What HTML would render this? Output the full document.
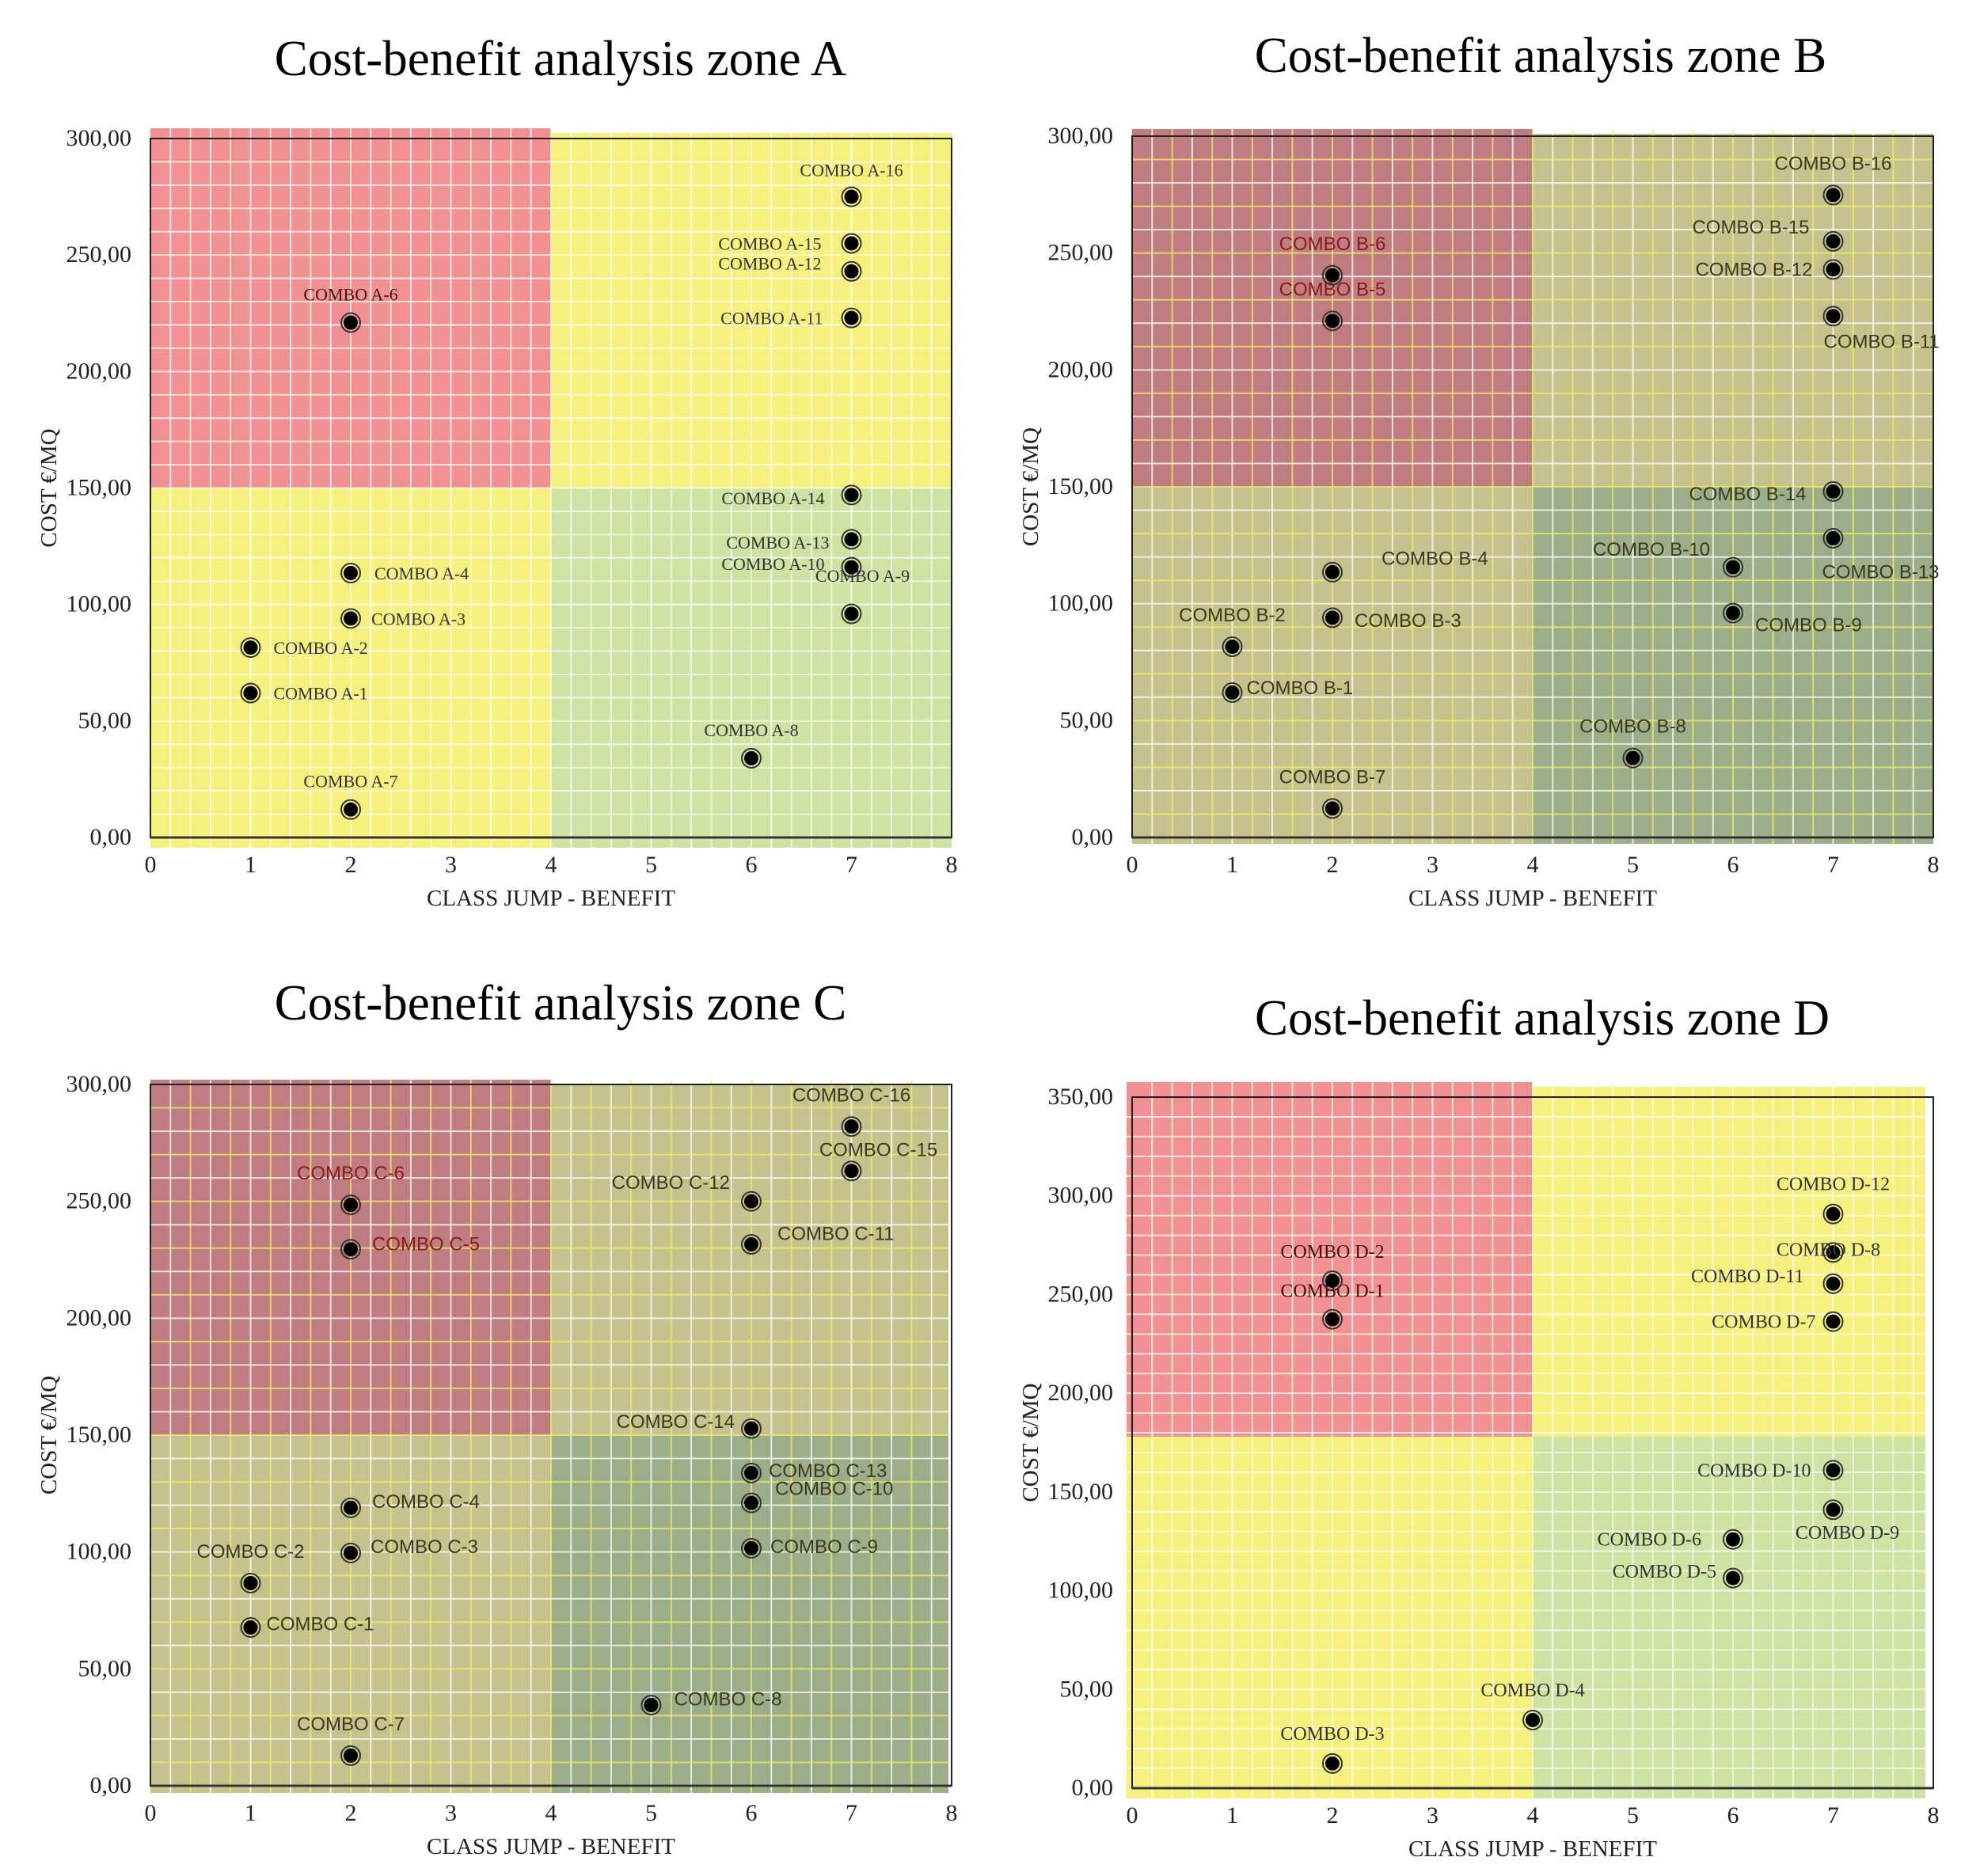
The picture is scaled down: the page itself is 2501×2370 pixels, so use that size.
<!DOCTYPE html>
<html><head><meta charset="utf-8">
<style>
html,body{margin:0;padding:0;background:#fff;}
svg{display:block;}
.title{font-family:"Liberation Serif",serif;font-size:63px;fill:#000;}
.tick{font-family:"Liberation Serif",serif;font-size:30px;fill:#222;}
.axt{font-family:"Liberation Serif",serif;font-size:29px;fill:#222;}
</style></head>
<body>
<svg id="root" width="2501" height="2370" viewBox="0 0 2501 2370" xmlns="http://www.w3.org/2000/svg"></svg>
<script>
// ---- Zone A data ----
const labelsA = ["A-1","A-2","A-3","A-4","A-6","A-7","A-8","A-9","A-10","A-11","A-12","A-13","A-14","A-15","A-16"];
const benefitA = [1,1,2,2,2,2,6,7,7,7,7,7,7,7,7];
const costA = [62,81.5,94,113.5,221,12,34,96,116,223,243,128,147,255,275];
// ---- Zone B data ----
const labelsB = ["B-1","B-2","B-3","B-4","B-5","B-6","B-7","B-8","B-9","B-10","B-11","B-12","B-13","B-14","B-15","B-16"];
const benefitB = [1,1,2,2,2,2,2,5,6,6,7,7,7,7,7,7];
const costB = [62,81.6,94,113.5,221,240.5,12.4,34,96,115.6,223,243,128,148,255,274.8];
// ---- Zone C data ----
const labelsC = ["C-1","C-2","C-3","C-4","C-5","C-6","C-7","C-8","C-9","C-10","C-11","C-12","C-13","C-14","C-15","C-16"];
const benefitC = [1,1,2,2,2,2,2,5,6,6,6,6,6,6,7,7];
const costC = [67.7,86.7,99.6,118.9,229.5,248.5,12.9,34.5,101.6,121,231.6,250,133.8,152.8,263,282];
// ---- Zone D data ----
const labelsD = ["D-1","D-2","D-3","D-4","D-5","D-6","D-7","D-8","D-9","D-10","D-11","D-12"];
const benefitD = [2,2,2,4,6,6,7,7,7,7,7,7];
const costD = [237.5,257,12.5,34.5,106.4,126,236.3,271.3,141,161,255.5,290.8];
// axis ticks
const xTicks = [0,1,2,3,4,5,6,7,8];
const yTicks300 = [0,50,100,150,200,250,300];
const yTicks350 = [0,50,100,150,200,250,300,350];

// label layout (dx, dy, anchor) — layout only
const layA = {"A-1":[29,0,"start"],"A-2":[29,0,"start"],"A-3":[26,0,"start"],"A-4":[30,0,"start"],"A-6":[0,-38,"middle"],"A-7":[0,-38,"middle"],"A-8":[0,-38,"middle"],"A-9":[14,-51,"middle"],"A-10":[-34,-5,"end"],"A-11":[-36,0,"end"],"A-12":[-38,-11,"end"],"A-13":[-28,4,"end"],"A-14":[-34,4,"end"],"A-15":[-38,0,"end"],"A-16":[0,-36,"middle"]};
const layB = {"B-1":[18,-6,"start"],"B-2":[0,-42,"middle"],"B-3":[28,4,"start"],"B-4":[62,-18,"start"],"B-5":[0,-42,"middle"],"B-6":[0,-42,"middle"],"B-7":[0,-42,"middle"],"B-8":[0,-42,"middle"],"B-9":[28,16,"start"],"B-10":[-29,-24,"end"],"B-11":[-12,34,"start"],"B-12":[-26,0,"end"],"B-13":[-14,45,"start"],"B-14":[-34,3,"end"],"B-15":[-30,-19,"end"],"B-16":[0,-42,"middle"]};
const layC = {"C-1":[20,-5,"start"],"C-2":[0,-42,"middle"],"C-3":[25,-8,"start"],"C-4":[27,-8,"start"],"C-5":[27,-7,"start"],"C-6":[0,-42,"middle"],"C-7":[0,-42,"middle"],"C-8":[29,-8,"start"],"C-9":[24,-2,"start"],"C-10":[30,-19,"start"],"C-11":[33,-14,"start"],"C-12":[-27,-25,"end"],"C-13":[22,-3,"start"],"C-14":[-21,-9,"end"],"C-15":[34,-28,"middle"],"C-16":[0,-42,"middle"]};
const layD = {"D-1":[0,-38,"middle"],"D-2":[0,-39,"middle"],"D-3":[0,-40,"middle"],"D-4":[0,-40,"middle"],"D-5":[-21,-9,"end"],"D-6":[-40,0,"end"],"D-7":[-22,0,"end"],"D-8":[-6,-4,"middle"],"D-9":[18,30,"middle"],"D-10":[-28,0,"end"],"D-11":[-37,-10,"end"],"D-12":[0,-40,"middle"]};

const NS="http://www.w3.org/2000/svg";
const root=document.getElementById('root');
function mk(tag,attrs,parent){const e=document.createElementNS(NS,tag);for(const k in attrs)e.setAttribute(k,attrs[k]);(parent||root).appendChild(e);return e;}

function chart(cfg,labels,xs,ys,yTicks,lay){
  const g=mk('g',{});
  
  
  const L=cfg.L,R=cfg.R,T=cfg.T,B=cfg.B,ymax=cfg.ymax;
  const sx=v=>L+(v/8)*(R-L);
  const sy=v=>B-(v/ymax)*(B-T);
  const t=mk('text',{x:cfg.tx,y:cfg.ty,'text-anchor':'middle',class:'title'},g);
  t.textContent=cfg.title;
  
  
  const xm=sx(4),ym=sy(cfg.thr);
  const e=cfg.ext;
  const q=[[L+e[0],T-e[1],xm,ym,cfg.red,'high-cost-low-benefit-zone'],[xm,T-e[1]+6,R+e[2],ym,cfg.yel,'high-cost-high-benefit-zone'],[L+e[0],ym,xm,B+e[3],cfg.yel,'low-cost-low-benefit-zone'],[xm,ym,R+e[2],B+e[3],cfg.grn,'low-cost-high-benefit-zone']];
  q.forEach(a=>{const r=mk('rect',{x:a[0],y:a[1],width:a[2]-a[0],height:a[3]-a[1],fill:a[4]},g);
    
    });
  const gg=mk('g',{},g);
  
  
  for(let i=1;i<40;i++){const x=sx(i*0.2);mk('line',{x1:x,x2:x,y1:T-e[1],y2:B+e[3],stroke:(i%2?cfg.g1:cfg.g2),'stroke-width':2,opacity:0.75},gg);}
  for(let v=10;v<ymax;v+=10){const y=sy(v);mk('line',{x1:L+e[0],x2:R+e[2],y1:y,y2:y,stroke:((v/10)%2?cfg.g2:cfg.g1),'stroke-width':2,opacity:0.75},gg);}
  const fr=mk('rect',{x:L,y:T,width:R-L,height:B-T,fill:'none',stroke:'#222','stroke-width':2},g);
  
  
  mk('line',{x1:L,x2:R,y1:B,y2:B,stroke:'#333','stroke-width':3},g);
  xTicks.forEach(v=>{const tx=mk('text',{x:sx(v),y:B+44,'text-anchor':'middle',class:'tick'},g);tx.textContent=v;
    
    });
  yTicks.forEach(v=>{const tx=mk('text',{x:L-24,y:sy(v)+9,'text-anchor':'end',class:'tick'},g);tx.textContent=v.toFixed(2).replace('.',',');
    
    });
  const xt=mk('text',{x:(L+R)/2,y:B+86,'text-anchor':'middle',class:'axt'},g);xt.textContent='CLASS JUMP - BENEFIT';
  
  
  const yc=(T+B)/2;
  const yt=mk('text',{x:L-128,y:yc,'text-anchor':'middle',class:'axt',transform:`rotate(-90 ${L-128} ${yc})`,dy:9},g);yt.textContent='COST €/MQ';
  
  
  labels.forEach((lb,i)=>{
    const px=sx(xs[i]),py=sy(ys[i]);
    const pg=mk('g',{},g);
    
    
    mk('circle',{cx:px,cy:py,r:12,fill:'none',stroke:'#333','stroke-width':2},pg);
    mk('circle',{cx:px,cy:py,r:9,fill:'#000'},pg);
    const o=lay[lb];
    const inRed = xs[i]<4 && ys[i]>cfg.thr;
    const tx=mk('text',{x:px+o[0],y:py+o[1]*0.95+8,'text-anchor':o[2],
      style:`font-family:${cfg.lf};font-size:${cfg.ls}px;fill:${inRed?cfg.redTxt:cfg.txt}`},pg);
    tx.textContent='COMBO '+lb;
    
    
  });
}
const serif='"Liberation Serif",serif', sans='"Liberation Sans",sans-serif';
chart({id:'zone-a',title:'Cost-benefit analysis zone A',tx:708,ty:95,L:190,R:1202,T:175,B:1058,ymax:300,thr:150,
  red:'#f29194',yel:'#f6f17f',grn:'#cde2a3',g1:'#ffffff',g2:'#fbfbe0',ext:[0,13,0,13],lf:serif,ls:22,txt:'#333',redTxt:'#4a1010'},labelsA,benefitA,costA,yTicks300,layA);
chart({id:'zone-b',title:'Cost-benefit analysis zone B',tx:1946,ty:91,L:1430,R:2442,T:172,B:1058,ymax:300,thr:150,
  red:'#bf7c81',yel:'#c6c28d',grn:'#9cad89',g1:'#ffffff',g2:'#f2ee6a',ext:[0,9,0,8],lf:sans,ls:24,txt:'#3a3a1e',redTxt:'#8a1c1c'},labelsB,benefitB,costB,yTicks300,layB);
chart({id:'zone-c',title:'Cost-benefit analysis zone C',tx:708,ty:1288,L:190,R:1202,T:1370,B:2256,ymax:300,thr:150,
  red:'#bf7c81',yel:'#c6c28d',grn:'#9cad89',g1:'#ffffff',g2:'#f2ee6a',ext:[0,6,-4,9],lf:sans,ls:24,txt:'#3a3a1e',redTxt:'#8a1c1c'},labelsC,benefitC,costC,yTicks300,layC);
chart({id:'zone-d',title:'Cost-benefit analysis zone D',tx:1948,ty:1307,L:1430,R:2442,T:1386,B:2259,ymax:350,thr:178,
  red:'#f29194',yel:'#f6f17f',grn:'#cde2a3',g1:'#ffffff',g2:'#fbfbe0',ext:[-7,19,-10,13],lf:serif,ls:24,txt:'#333',redTxt:'#4a1010'},labelsD,benefitD,costD,yTicks350,layD);
</script>
</body></html>
